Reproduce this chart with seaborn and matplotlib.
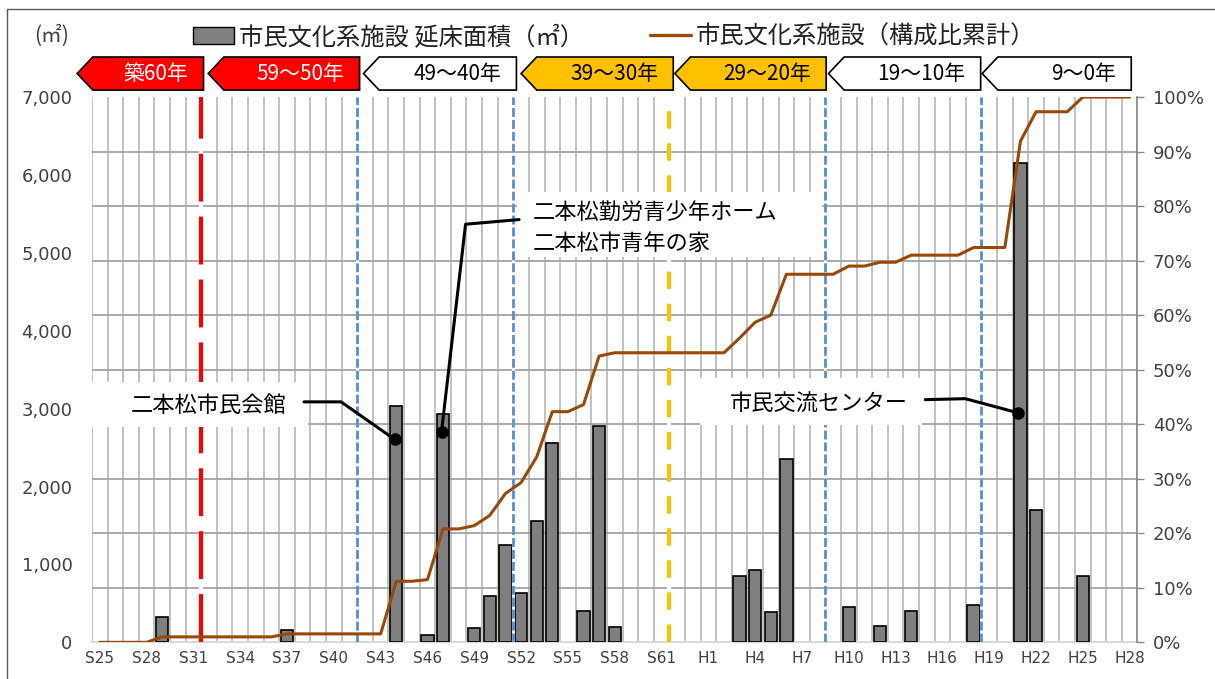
import numpy as np
import matplotlib.pyplot as plt
import matplotlib.transforms as mtransforms
from matplotlib.patches import Polygon, Rectangle, Patch
from matplotlib.lines import Line2D
from matplotlib.ticker import FixedLocator, FuncFormatter
import seaborn as sns

# ==========================================
# データ（和暦年度別 延床面積 / 構成比累計）
# ==========================================
years = [
    'S25', 'S26', 'S27', 'S28', 'S29', 'S30', 'S31', 'S32', 'S33', 'S34',
    'S35', 'S36', 'S37', 'S38', 'S39', 'S40', 'S41', 'S42', 'S43', 'S44',
    'S45', 'S46', 'S47', 'S48', 'S49', 'S50', 'S51', 'S52', 'S53', 'S54',
    'S55', 'S56', 'S57', 'S58', 'S59', 'S60', 'S61', 'S62', 'S63',
    'H1', 'H2', 'H3', 'H4', 'H5', 'H6', 'H7', 'H8', 'H9', 'H10',
    'H11', 'H12', 'H13', 'H14', 'H15', 'H16', 'H17', 'H18', 'H19', 'H20',
    'H21', 'H22', 'H23', 'H24', 'H25', 'H26', 'H27', 'H28',
]

# 延床面積（㎡）
floor_area = [
    0, 0, 0, 0, 330, 0, 0, 0, 0, 0,
    0, 0, 160, 0, 0, 0, 0, 0, 0, 3030,
    0, 100, 2935, 0, 178, 593, 1251, 636, 1553, 2554,
    0, 407, 2775, 191, 0, 0, 0, 0, 0,
    0, 0, 848, 933, 386, 2355, 0, 0, 0, 453,
    0, 204, 0, 402, 0, 0, 0, 475, 0, 0,
    6150, 1698, 0, 0, 855, 0, 0, 0,
]

# 構成比累計（%）
cum_ratio = [
    0, 0, 0, 0, 1.0, 1.0, 1.0, 1.0, 1.0, 1.0,
    1.0, 1.0, 1.55, 1.55, 1.55, 1.55, 1.55, 1.55, 1.55, 11.2,
    11.2, 11.5, 20.8, 20.8, 21.4, 23.3, 27.3, 29.3, 34.0, 42.3,
    42.3, 43.6, 52.5, 53.1, 53.1, 53.1, 53.1, 53.1, 53.1,
    53.1, 53.1, 55.8, 58.7, 60.0, 67.5, 67.5, 67.5, 67.5, 69.0,
    69.0, 69.7, 69.7, 71.0, 71.0, 71.0, 71.0, 72.4, 72.4, 72.4,
    91.9, 97.3, 97.3, 97.3, 100, 100, 100, 100,
]

# 築年数区分の見出し
zone_labels = ['築60年', '59～50年', '49～40年', '39～30年', '29～20年', '19～10年', '9～0年']
zone_fill = ['#FF0000', '#FF0000', '#FFFFFF', '#FFC000', '#FFC000', '#FFFFFF', '#FFFFFF']
zone_text = ['white', 'white', 'black', 'black', 'black', 'black', 'black']
zone_tip = [-1.45, 6.95, 16.9, 27.0, 36.85, 46.7, 56.55]
zone_right = [6.65, 16.65, 26.7, 36.75, 46.55, 56.45, 66.1]

bar_color = '#7F7F7F'
line_color = '#984807'

# ==========================================
# 描画
# ==========================================
sns.set_theme(style='white')
plt.rcParams['font.family'] = ['Noto Sans CJK JP', 'DejaVu Sans']

fig = plt.figure(figsize=(12.15, 6.79), dpi=100)
ax = fig.add_axes([0.0757, 0.0540, 0.8605, 0.8031])
ax2 = ax.twinx()

x = np.arange(len(years))

sns.barplot(x=years, y=floor_area, color=bar_color, saturation=1,
            edgecolor='black', linewidth=1.2, width=0.79, ax=ax, zorder=3)
for p in ax.patches:
    if p.get_height() == 0:
        p.set_visible(False)

ax.set_xlim(-0.5, len(years) - 0.5)
ax.set_ylim(0, 7000)
ax.set_xlabel('')
ax.set_ylabel('')

# グリッド（年度の区切り・10%刻み）
ax.xaxis.set_minor_locator(FixedLocator(np.arange(-0.5, len(years), 1)))
ax.yaxis.set_minor_locator(FixedLocator(np.arange(0, 7001, 700)))
ax.grid(False)
ax.grid(which='minor', axis='x', color='#BCBCBC', lw=1.3)
ax.grid(which='minor', axis='y', color='#A3A3A3', lw=1.3)
ax.set_axisbelow(True)
ax.tick_params(which='minor', length=0)

ax.set_xticks(x[::3])
ax.set_xticklabels(years[::3], fontsize=11, family='DejaVu Sans', color='#404040')
ax.set_yticks(range(0, 7001, 1000))
ax.yaxis.set_major_formatter(FuncFormatter(lambda v, _: f'{int(v):,}'))
ax.tick_params(axis='x', which='major', length=0, pad=6)
ax.tick_params(axis='y', which='major', length=0, pad=14, labelsize=13, labelcolor='#404040')
for lab in ax.get_yticklabels():
    lab.set_family('DejaVu Sans')

for side in ['left', 'top', 'right']:
    ax.spines[side].set_visible(False)
ax.spines['bottom'].set_color('#D9D9D9')
ax.spines['bottom'].set_linewidth(1.5)

# 構成比累計（右軸）
sns.lineplot(x=x, y=cum_ratio, ax=ax2, color=line_color, lw=2.2, zorder=5)
ax2.set_ylim(0, 100)
ax2.set_xlim(-0.5, len(years) - 0.5)
ax2.set_yticks(range(0, 101, 10))
ax2.yaxis.set_major_formatter(FuncFormatter(lambda v, _: f'{v:.0f}%'))
ax2.set_ylabel('')
ax2.tick_params(axis='y', length=5, width=1, color='#868686', pad=6,
                labelsize=13, labelcolor='#404040')
for lab in ax2.get_yticklabels():
    lab.set_family('DejaVu Sans')
for side in ['left', 'top', 'bottom']:
    ax2.spines[side].set_visible(False)
ax2.spines['right'].set_color('#868686')
ax2.spines['right'].set_linewidth(1.2)
ax2.grid(False)

# 築年数区切りの破線
ax.axvline(6.5, color='white', lw=3, zorder=3.4)
ax.axvline(6.5, color='#FF0000', lw=3, dashes=(11.5, 3.6), zorder=3.5)
ax.axvline(36.5, color='white', lw=3, zorder=3.4)
ax.axvline(36.5, color='#FFC000', lw=3, dashes=(4.2, 3.5), zorder=3.5)
for xv in [16.5, 26.5, 46.5, 56.5]:
    ax.axvline(xv, color='white', lw=2, zorder=3.4)
    ax.axvline(xv, color='#558ED5', lw=2, dashes=(3.2, 1.1), zorder=3.5)

# 築年数の見出し（矢印型）
trans = mtransforms.blended_transform_factory(ax.transData, ax.transAxes)
y_top, y_bot, y_mid = 1.0734, 1.0128, 1.0431
for lab, fc, tc, xt, xr in zip(zone_labels, zone_fill, zone_text, zone_tip, zone_right):
    pts = [(xt, y_mid), (xt + 1.0, y_top), (xr, y_top), (xr, y_bot), (xt + 1.0, y_bot)]
    ax.add_patch(Polygon(pts, closed=True, facecolor=fc, edgecolor='black', lw=1.2,
                         transform=trans, clip_on=False, zorder=6))
    ax.text(xr - 0.97, y_mid, lab, transform=trans, ha='right', va='center',
            fontsize=15, color=tc, zorder=7)

# 施設名の吹き出し
ax.add_patch(Rectangle((-0.63, 2766), 13.98, 578, facecolor='white', edgecolor='none',
                       clip_on=False, zorder=4))
ax.text(1.98, 3035, '二本松市民会館', fontsize=16, ha='left', va='center', color='black', zorder=6)
ax.plot([13.09, 15.46, 18.9], [3087, 3087, 2605], color='black', lw=2.2, zorder=5)
ax.plot(18.9, 2605, 'o', ms=8, color='black', zorder=6)

ax.add_patch(Rectangle((26.74, 4943), 19.56, 834, facecolor='white', edgecolor='none', zorder=4))
ax.text(27.74, 5504, '二本松勤労青少年ホーム', fontsize=16, ha='left', va='center', color='black', zorder=6)
ax.text(27.74, 5119, '二本松市青年の家', fontsize=16, ha='left', va='center', color='black', zorder=6)
ax.plot([26.87, 23.44, 21.9], [5427, 5367, 2702], color='black', lw=2.2, zorder=5)
ax.plot(21.9, 2702, 'o', ms=8, color='black', zorder=6)

ax.add_patch(Rectangle((38.47, 2788), 14.23, 603, facecolor='white', edgecolor='none', zorder=4))
ax.text(40.4, 3060, '市民交流センター', fontsize=16, ha='left', va='center', color='black', zorder=6)
ax.plot([52.9, 55.46, 58.85], [3115, 3128, 2946], color='black', lw=2.2, zorder=5)
ax.plot(58.85, 2946, 'o', ms=8, color='black', zorder=6)

# 凡例・単位
handles = [Patch(facecolor=bar_color, edgecolor='black', lw=1.0),
           Line2D([], [], color=line_color, lw=2.4)]
fig.legend(handles, ['市民文化系施設 延床面積（㎡）', '市民文化系施設（構成比累計）'],
           loc='center', bbox_to_anchor=(0.5053, 0.9455), ncol=2, frameon=False,
           fontsize=17.5, handlelength=1.7, handletextpad=0.2, columnspacing=2.7,
           borderaxespad=0, labelcolor='#222222')
fig.text(0.0428, 0.9477, '(㎡)', ha='center', va='center', fontsize=15, color='#404040')

# 外枠
fig.add_artist(Rectangle((0.0058, -0.02), 1.1, 1.0063, transform=fig.transFigure,
                         fill=False, edgecolor='#595959', lw=1))

fig.savefig('out.png', dpi=100)
